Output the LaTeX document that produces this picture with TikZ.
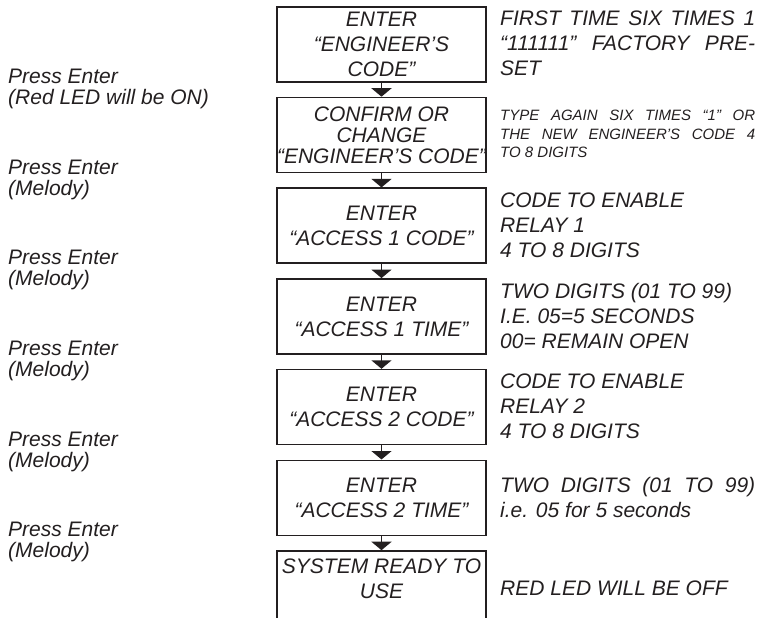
\documentclass[tikz,border=0pt]{standalone}
\usepackage{fontspec}
\setmainfont{Liberation Sans}
\usetikzlibrary{arrows.meta,positioning}
\definecolor{ink}{HTML}{231F20}

\begin{document}
\begin{tikzpicture}[x=1pt,y=-1pt,
  stepbox/.style={draw=ink, line width=1.6pt, minimum width=209pt, minimum height=75pt,
    inner sep=0pt, anchor=north, align=center, text=ink, font=\fontsize{21}{25}\selectfont\itshape},
  flow/.style={draw=ink, line width=1.6pt, -{Triangle[width=20pt,length=8.5pt]}},
  keynote/.style={anchor=west, align=left, inner sep=0pt, text=ink, font=\fontsize{21}{21}\selectfont\itshape},
  infonote/.style={anchor=west, text width=255pt, align=justify, inner sep=0pt, text=ink, font=\fontsize{21}{25}\selectfont\itshape},
  smallnote/.style={infonote, font=\fontsize{15}{18.5}\selectfont\itshape}]
\useasboundingbox (0,0) rectangle (772,618);

% Flow of steps
\node[stepbox] (engcode) at (381.5,6) {ENTER\\“ENGINEER’S\\CODE”};
\node[stepbox, font=\fontsize{21}{21}\selectfont\itshape] (engconfirm) at (381.5,96.7) {CONFIRM OR\\CHANGE\\\makebox[209pt]{“ENGINEER’S CODE”}};
\node[stepbox] (acc1code) at (381.5,187.4) {ENTER\\“ACCESS 1 CODE”};
\node[stepbox] (acc1time) at (381.5,278.1) {ENTER\\“ACCESS 1 TIME”};
\node[stepbox] (acc2code) at (381.5,368.8) {ENTER\\“ACCESS 2 CODE”};
\node[stepbox] (acc2time) at (381.5,459.5) {ENTER\\“ACCESS 2 TIME”};
\node[stepbox] (ready) at (381.5,550.2) {};
\node[stepbox, draw=none, minimum height=0pt, below=8pt of ready.north] (readytxt) {SYSTEM READY TO\\USE};

% Arrows between the steps
\draw[flow] (engcode) -- (engconfirm);
\draw[flow] (engconfirm) -- (acc1code);
\draw[flow] (acc1code) -- (acc1time);
\draw[flow] (acc1time) -- (acc2code);
\draw[flow] (acc2code) -- (acc2time);
\draw[flow] (acc2time) -- (ready);

% Keys to press (left)
\node[keynote] (press1) at (8,88.9) {Press Enter\\(Red LED will be ON)};
\node[keynote] (press2) at (8,179.6) {Press Enter\\(Melody)};
\node[keynote] (press3) at (8,270.3) {Press Enter\\(Melody)};
\node[keynote] (press4) at (8,361) {Press Enter\\(Melody)};
\node[keynote] (press5) at (8,451.7) {Press Enter\\(Melody)};
\node[keynote] (press6) at (8,542.4) {Press Enter\\(Melody)};

% Notes (right)
\node[infonote] (note1) at (500,43.5) {FIRST TIME SIX TIMES 1\linebreak “111111” FACTORY PRE-\linebreak SET};
\node[smallnote] (note2) at (500,134.2) {TYPE AGAIN SIX TIMES “1” OR\linebreak THE NEW ENGINEER’S CODE 4\linebreak TO 8 DIGITS};
\node[infonote] (note3) at (500,224.9) {CODE TO ENABLE\\RELAY 1\\4 TO 8 DIGITS};
\node[infonote] (note4) at (500,315.6) {TWO DIGITS (01 TO 99)\\I.E. 05=5 SECONDS\\00= REMAIN OPEN};
\node[infonote] (note5) at (500,406.3) {CODE TO ENABLE\\RELAY 2\\4 TO 8 DIGITS};
\node[infonote] (note6) at (500,497) {TWO DIGITS (01 TO 99)\linebreak i.e. 05 for 5 seconds};
\node[infonote] (note7) at (500,588) {RED LED WILL BE OFF};
\end{tikzpicture}
\end{document}
